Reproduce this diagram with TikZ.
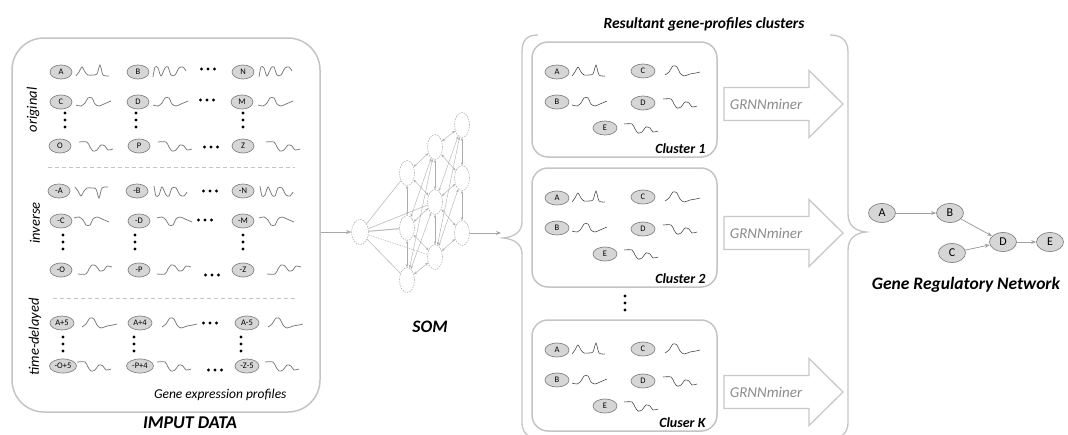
\documentclass[tikz,border=0pt]{standalone}
\usepackage{fontspec}
\setmainfont{Carlito}
\usetikzlibrary{shapes.geometric,arrows.meta,calc}

\definecolor{boxline}{HTML}{C4C4C4}
\definecolor{genefill}{HTML}{D6D6D6}
\definecolor{geneline}{HTML}{858585}
\definecolor{waveline}{HTML}{7A7A7A}
\definecolor{wavedark}{HTML}{404040}
\definecolor{minerline}{HTML}{C8C8C8}
\definecolor{minertext}{HTML}{8C8C8C}
\definecolor{linkline}{HTML}{A6A6A6}

\tikzset{
  gene/.style={ellipse, draw=geneline, fill=genefill, line width=0.7pt,
    minimum width=22pt, minimum height=14pt, inner sep=0pt,
    font=\fontsize{8.5}{8.5}\selectfont},
  midgene/.style={gene, minimum width=24pt},
  widegene/.style={gene, minimum width=27pt},
  grngene/.style={ellipse, draw=geneline, fill=genefill, line width=0.7pt,
    minimum width=27pt, minimum height=19pt, inner sep=0pt,
    font=\fontsize{12}{12}\selectfont},
  wave pen/.style={draw=waveline, line width=0.75pt},
  frame/.style={draw=boxline, line width=1.5pt, fill=white},
  sidelabel/.style={rotate=90, font=\fontsize{14.5}{14.5}\selectfont\itshape},
  title/.style={font=\fontsize{17.5}{17.5}\selectfont\bfseries\itshape},
  clusterlabel/.style={font=\fontsize{14}{14}\selectfont\bfseries\itshape, anchor=east},
  somnode/.style={ellipse, draw=gray!60, dash pattern=on 1.5pt off 1pt,
    minimum width=15pt, minimum height=25pt, inner sep=0pt, line width=0.6pt},
  somlink/.style={draw=gray!65, line width=0.4pt,
    {Stealth[length=3pt,width=2.4pt]}-{Stealth[length=3pt,width=2.4pt]}},
  somfan/.style={draw=gray!55, line width=0.6pt},
  flow/.style={draw=linkline, line width=0.8pt, -{Stealth[length=5pt,width=4pt]}},
  grnlink/.style={draw=gray!75, line width=0.8pt, -{Stealth[length=5pt,width=4pt]}},
  brace/.style={draw=boxline, line width=1.3pt},
  % expression profiles, drawn from their left end
  wave A/.pic={\draw[wave pen] plot[smooth,tension=0.45] coordinates
    {(0,4) (3,0) (6,-5) (9,0) (12,3) (17,3) (21,2) (24,-7) (27,3) (33,4)};},
  wave B/.pic={\draw[wave pen] plot[smooth,tension=0.5] coordinates
    {(0,5) (2,-5) (5,-4) (8,4) (12,-4) (15,-5) (18,3) (22,3) (26,-4) (30,-5) (33,-1)};},
  wave C/.pic={\draw[wave pen] plot[smooth,tension=0.5] coordinates
    {(0,3) (5,4) (9,1) (12,-4) (16,-4) (19,2) (23,4) (28,2) (35,-1)};},
  wave O/.pic={\draw[wave pen] plot[smooth,tension=0.5] coordinates
    {(0,-4) (8,-4) (11,1) (14,5) (18,4) (22,-1) (26,0) (29,4) (34,3)};},
  wave T/.pic={\draw[wave pen] plot[smooth,tension=0.5] coordinates
    {(0,4) (4,1) (8,-5) (12,-4) (15,2) (19,5) (25,3) (31,2) (35,1)};},
  hdots/.pic={\foreach \d in {-6.5,0,6.5} \fill (\d,0) circle (1.7);},
  vdots/.pic={\foreach \d in {-7,0,7} \fill (0,\d) circle (1.7);},
  miner arrow/.pic={
    \draw[draw=minerline, line width=1.3pt, fill=white]
      (0,-16.5) -- (85,-16.5) -- (85,-33.5) -- (119,0) -- (85,33.5)
      -- (85,16.5) -- (0,16.5) -- cycle;
    \node[font=\fontsize{15}{15}\selectfont\itshape, text=minertext]
      (-label) at (42,0) {GRNNminer};},
}

% gene node with its profile: style, name, x, y, label, profile, profile x, profile options
\newcommand\geneitem[8]{%
  \node[#1] (#2) at (#3,#4) {#5};
  \pic[#8] at (#7,#4) {#6};}

% one cluster box, top edge at #2
\newcommand\clusterbox[4]{%
  \node[frame, rounded corners=16pt, minimum width=185pt, minimum height=#3pt]
    (#1) at (624.5,#2+#3/2) {};
  \begin{scope}[wave pen/.style={draw=wavedark, line width=0.55pt}]
    \geneitem{midgene}{#1A}{557}{#2+30}{A}{wave A}{572}{}
    \geneitem{midgene}{#1C}{643}{#2+29}{C}{wave T}{665}{}
    \geneitem{midgene}{#1B}{557}{#2+60}{B}{wave C}{572}{}
    \geneitem{midgene}{#1D}{643}{#2+61}{D}{wave O}{663}{}
    \geneitem{midgene}{#1E}{605}{#2+86}{E}{wave O}{624}{}
  \end{scope}
  \node[clusterlabel] (#1label) at (709,#2+#3-8) {#4};}

\begin{document}
\begin{tikzpicture}[x=1pt,y=-1pt]
\useasboundingbox (0,0) rectangle (1068,434);

% ---------------- input data ----------------
\node[frame, rounded corners=32pt, minimum width=308pt, minimum height=374pt]
  (inbox) at (166,225) {};
\draw[draw=boxline, line width=0.8pt, dash pattern=on 4pt off 3pt] (48,167) -- (295,167);
\draw[draw=boxline, line width=0.8pt, dash pattern=on 4pt off 3pt] (53,298) -- (295,298);

\node[sidelabel] (lorig) at (33,110) {original};
\node[sidelabel] (linv) at (35,223) {inverse};
\node[sidelabel] (ltime) at (35,337) {time-delayed};

% original profiles
\geneitem{gene}{oA}{61}{72}{A}{wave A}{76}{}
\geneitem{gene}{oB}{138}{72}{B}{wave B}{153}{}
\geneitem{gene}{oN}{243}{72}{N}{wave B}{259}{}
\geneitem{gene}{oC}{61}{102}{C}{wave C}{76}{}
\geneitem{gene}{oD}{138}{102}{D}{wave C}{153}{}
\geneitem{gene}{oM}{242}{102}{M}{wave C}{258}{}
\geneitem{gene}{oO}{60}{146}{O}{wave O}{79}{}
\geneitem{gene}{oP}{139}{146}{P}{wave O}{158}{}
\geneitem{gene}{oZ}{243}{146}{Z}{wave O}{266}{}
\pic at (208,69) {hdots};
\pic at (207,100) {hdots};
\pic at (211,147) {hdots};
\pic at (65,120) {vdots};
\pic at (136,120) {vdots};
\pic at (243,120) {vdots};

% inverse profiles
\geneitem{gene}{iA}{59}{191}{-A}{wave A}{75}{yscale=-1}
\geneitem{gene}{iB}{137}{191}{-B}{wave B}{154}{yscale=-1}
\geneitem{gene}{iN}{243}{191}{-N}{wave B}{260}{yscale=-1}
\geneitem{gene}{iC}{61}{221}{-C}{wave C}{74}{yscale=-1}
\geneitem{gene}{iD}{139}{221}{-D}{wave C}{157}{yscale=-1}
\geneitem{gene}{iM}{243}{221}{-M}{wave C}{259}{yscale=-1}
\geneitem{gene}{iO}{61}{270}{-O}{wave O}{78}{yscale=-1}
\geneitem{gene}{iP}{139}{270}{-P}{wave O}{157}{yscale=-1}
\geneitem{gene}{iZ}{243}{270}{-Z}{wave O}{267}{yscale=-1}
\pic at (210,191) {hdots};
\pic at (205,220) {hdots};
\pic at (212,275) {hdots};
\pic at (63,242) {vdots};
\pic at (135,242) {vdots};
\pic at (243,242) {vdots};

% time-delayed profiles
\geneitem{midgene}{tA}{62}{323}{A+5}{wave T}{82}{}
\geneitem{midgene}{tB}{140}{323}{A+4}{wave T}{162}{}
\geneitem{midgene}{tC}{247}{323}{A-5}{wave T}{268}{}
\geneitem{widegene}{tO}{63}{366}{-O+5}{wave O}{77}{}
\geneitem{widegene}{tP}{140}{366}{-P+4}{wave O}{157}{}
\geneitem{midgene}{tZ}{247}{366}{-Z-5}{wave O}{265}{}
\pic at (210,323) {hdots};
\pic at (215,370) {hdots};
\pic at (63,344) {vdots};
\pic at (134,344) {vdots};
\pic at (241,344) {vdots};

\node[font=\fontsize{13.5}{13.5}\selectfont\itshape, anchor=east] (lprof) at (290,395)
  {Gene expression profiles};
\node[title, font=\fontsize{18}{18}\selectfont\bfseries\itshape] (lin) at (190,423) {IMPUT DATA};

% ---------------- SOM ----------------
\node[somnode, minimum width=17pt] (s0) at (360,232) {};
\node[somnode] (s11) at (407,173) {};
\node[somnode] (s12) at (407,228) {};
\node[somnode] (s13) at (407,280) {};
\node[somnode] (s21) at (435,147) {};
\node[somnode] (s22) at (435,202) {};
\node[somnode] (s23) at (435,257) {};
\node[somnode] (s31) at (462,125) {};
\node[somnode] (s32) at (462,178) {};
\node[somnode] (s33) at (462,233) {};

\foreach \a/\b in {s11/s12, s12/s13, s21/s22, s22/s23, s31/s32, s32/s33,
                   s11/s21, s21/s31, s12/s22, s22/s32, s13/s23, s23/s33,
                   s12/s21, s22/s31, s13/s22, s23/s32,
                   s11/s22, s21/s32, s12/s23, s22/s33, s13/s21, s23/s31}
  \draw[somlink] (\a) -- (\b);

\draw[somfan] (s0) -- (s11);
\draw[somfan] (s0) -- (s22);
\draw[somfan, line width=1pt] (s0) -- (s12);
\draw[somfan, dash pattern=on 1.5pt off 1pt] (s0) -- (s23);
\draw[somfan] (s0) -- (s13);

\node[title] (lsom) at (430,327) {SOM};

\draw[flow] (inbox.east |- s0) -- (s0.west);

% ---------------- clusters ----------------
\node[title, font=\fontsize{15.5}{15.5}\selectfont\bfseries\itshape] (lclu) at (704,24)
  {Resultant gene-profiles clusters};

\draw[brace] (538,35) .. controls (527,35) and (522,40) .. (522,52)
  -- (522,222) .. controls (522,232) and (514,237) .. (503,238) coordinate (brL)
  .. controls (514,239) and (522,244) .. (522,254)
  -- (522,422) .. controls (522,430) and (525,434) .. (530,437);
\draw[brace] (830,35) .. controls (841,35) and (848,40) .. (848,52)
  -- (848,214) .. controls (848,226) and (856,231) .. (866,232) coordinate (brR)
  .. controls (856,233) and (848,238) .. (848,250)
  -- (848,422) .. controls (848,430) and (845,434) .. (840,437);

\draw[flow, shorten >=2pt] (s33.east) -- (s33.east -| brL);

\clusterbox{k1}{42}{115}{Cluster 1}
\clusterbox{k2}{168}{119}{Cluster 2}
\clusterbox{kK}{320}{111}{Cluser K}
\pic at (625,303) {vdots};

\pic (m1) at (724,104) {miner arrow};
\pic (m2) at (724,233) {miner arrow};
\pic (mK) at (724,392) {miner arrow};

% ---------------- network ----------------
\node[grngene] (gA) at (882,213) {A};
\node[grngene] (gB) at (950,213) {B};
\node[grngene] (gC) at (952,253) {C};
\node[grngene] (gD) at (1003,242) {D};
\node[grngene] (gE) at (1050,242) {E};
\draw[grnlink] (gA) -- (gB);
\draw[grnlink] (gB) -- (gD);
\draw[grnlink] (gC) -- (gD);
\draw[grnlink] (gD) -- (gE);
\node[title] (lgrn) at (966,285) {Gene Regulatory Network};

\end{tikzpicture}
\end{document}
